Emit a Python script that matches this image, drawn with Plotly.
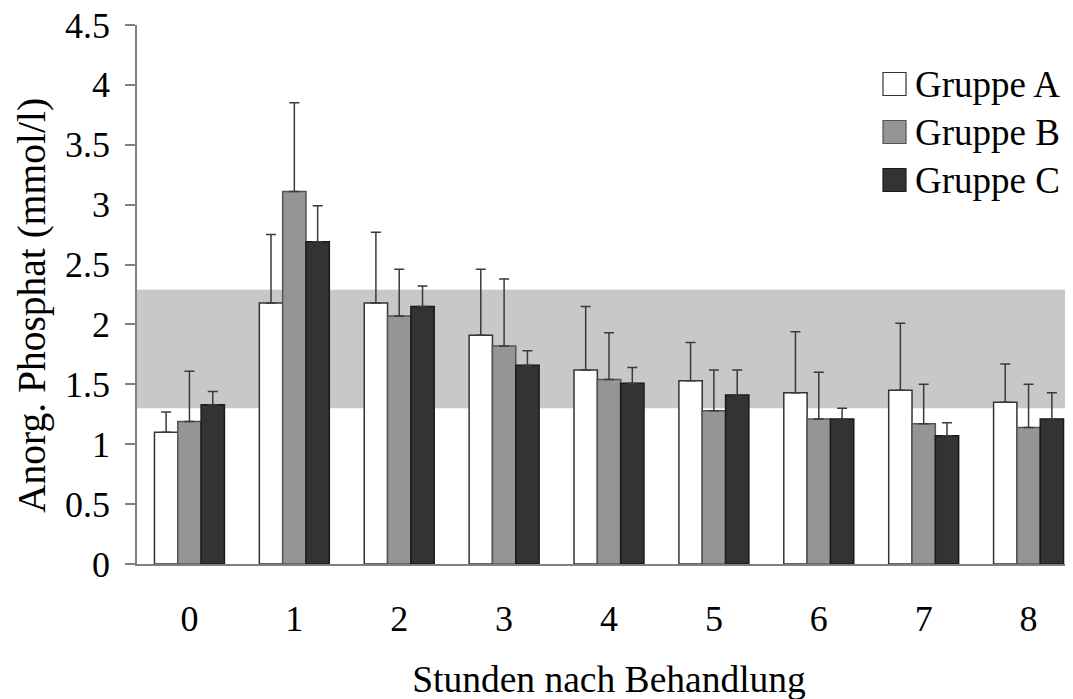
import plotly.graph_objects as go

hours = ["0", "1", "2", "3", "4", "5", "6", "7", "8"]
group_names = ["Gruppe A", "Gruppe B", "Gruppe C"]
mean_a = [1.10, 2.18, 2.18, 1.91, 1.62, 1.53, 1.43, 1.45, 1.35]
mean_b = [1.19, 3.11, 2.07, 1.82, 1.54, 1.28, 1.21, 1.17, 1.14]
mean_c = [1.33, 2.69, 2.15, 1.66, 1.51, 1.41, 1.21, 1.07, 1.21]
upper_a = [1.27, 2.75, 2.77, 2.46, 2.15, 1.85, 1.94, 2.01, 1.67]
upper_b = [1.61, 3.85, 2.46, 2.38, 1.93, 1.62, 1.60, 1.50, 1.50]
upper_c = [1.44, 2.99, 2.32, 1.78, 1.64, 1.62, 1.30, 1.18, 1.43]
band_low, band_high = 1.30, 2.29
y_ticks = [0, 0.5, 1, 1.5, 2, 2.5, 3, 3.5, 4, 4.5]
x_title = "Stunden nach Behandlung"
y_title = "Anorg. Phosphat (mmol/l)"

colors = ["#ffffff", "#959595", "#333333"]
outline = ["#333333", "#555555", "#1a1a1a"]
FONT = "Liberation Serif"

fig = go.Figure()
for name, means, uppers, col, oc in zip(group_names, [mean_a, mean_b, mean_c],
                                        [upper_a, upper_b, upper_c], colors, outline):
    fig.add_trace(go.Bar(
        x=hours, y=means, name=name,
        marker=dict(color=col, line=dict(color=oc, width=1.5)),
        error_y=dict(type="data", symmetric=False,
                     array=[u - m for u, m in zip(uppers, means)],
                     arrayminus=[0] * len(means),
                     color="#3a3a3a", thickness=1.5, width=5),
        showlegend=False,
    ))

# reference band
fig.add_shape(type="rect", xref="paper", yref="y", x0=0, x1=1,
              y0=band_low, y1=band_high, fillcolor="#c8c8c8",
              line=dict(width=0), layer="below")

# figure pixel geometry (page shows figure offset by 8px body margin)
W, H = 1073, 699
ML, MR, MT, MB = 129, 0, 17, 143
plot_l, plot_r, plot_t, plot_b = ML + 8, W - MR + 8, MT + 8, H - MB + 8

def px_to_paper_x(px):
    return (px - plot_l) / (plot_r - plot_l)

def px_to_paper_y(py):
    return (plot_b - py) / (plot_b - plot_t)

# legend drawn as swatches + labels
for i, (name, col, oc) in enumerate(zip(group_names, colors, outline)):
    cy = 84 + 48 * i
    fig.add_shape(type="rect", xref="paper", yref="paper",
                  x0=px_to_paper_x(883), x1=px_to_paper_x(906),
                  y0=px_to_paper_y(cy + 11.5), y1=px_to_paper_y(cy - 11.5),
                  fillcolor=col, line=dict(color=oc, width=1.2))
    fig.add_annotation(xref="paper", yref="paper", x=px_to_paper_x(913),
                       y=px_to_paper_y(cy), text=name, showarrow=False,
                       xanchor="left", yanchor="middle",
                       font=dict(family=FONT, size=37, color="black"))

# y-axis title as rotated annotation
fig.add_annotation(xref="paper", yref="paper", x=px_to_paper_x(32),
                   y=px_to_paper_y(306), text=y_title, textangle=-90,
                   showarrow=False, xanchor="center", yanchor="middle",
                   font=dict(family=FONT, size=39.5, color="black"))

fig.update_layout(
    template="none",
    width=W, height=H,
    margin=dict(l=ML, r=MR, t=MT, b=MB, autoexpand=False),
    paper_bgcolor="white", plot_bgcolor="white",
    barmode="group", bargap=0.333, bargroupgap=0,
    font=dict(family=FONT, size=36, color="black"),
    xaxis=dict(
        type="category", range=[-0.5, 8.5], automargin=False,
        showline=True, linecolor="#808080", linewidth=1.5,
        ticks="", showgrid=False, zeroline=False,
        ticklabelstandoff=22,
        title=dict(text=x_title, standoff=28,
                   font=dict(family=FONT, size=37.5)),
    ),
    yaxis=dict(
        range=[0, 4.5], tickvals=y_ticks, automargin=False,
        showline=True, linecolor="#808080", linewidth=1.5,
        ticks="outside", ticklen=10, tickcolor="#808080", tickwidth=1.5,
        showgrid=False, zeroline=False,
        ticklabelstandoff=8, ticklabeloverflow="allow",
    ),
)

fig.write_html("out.html")
